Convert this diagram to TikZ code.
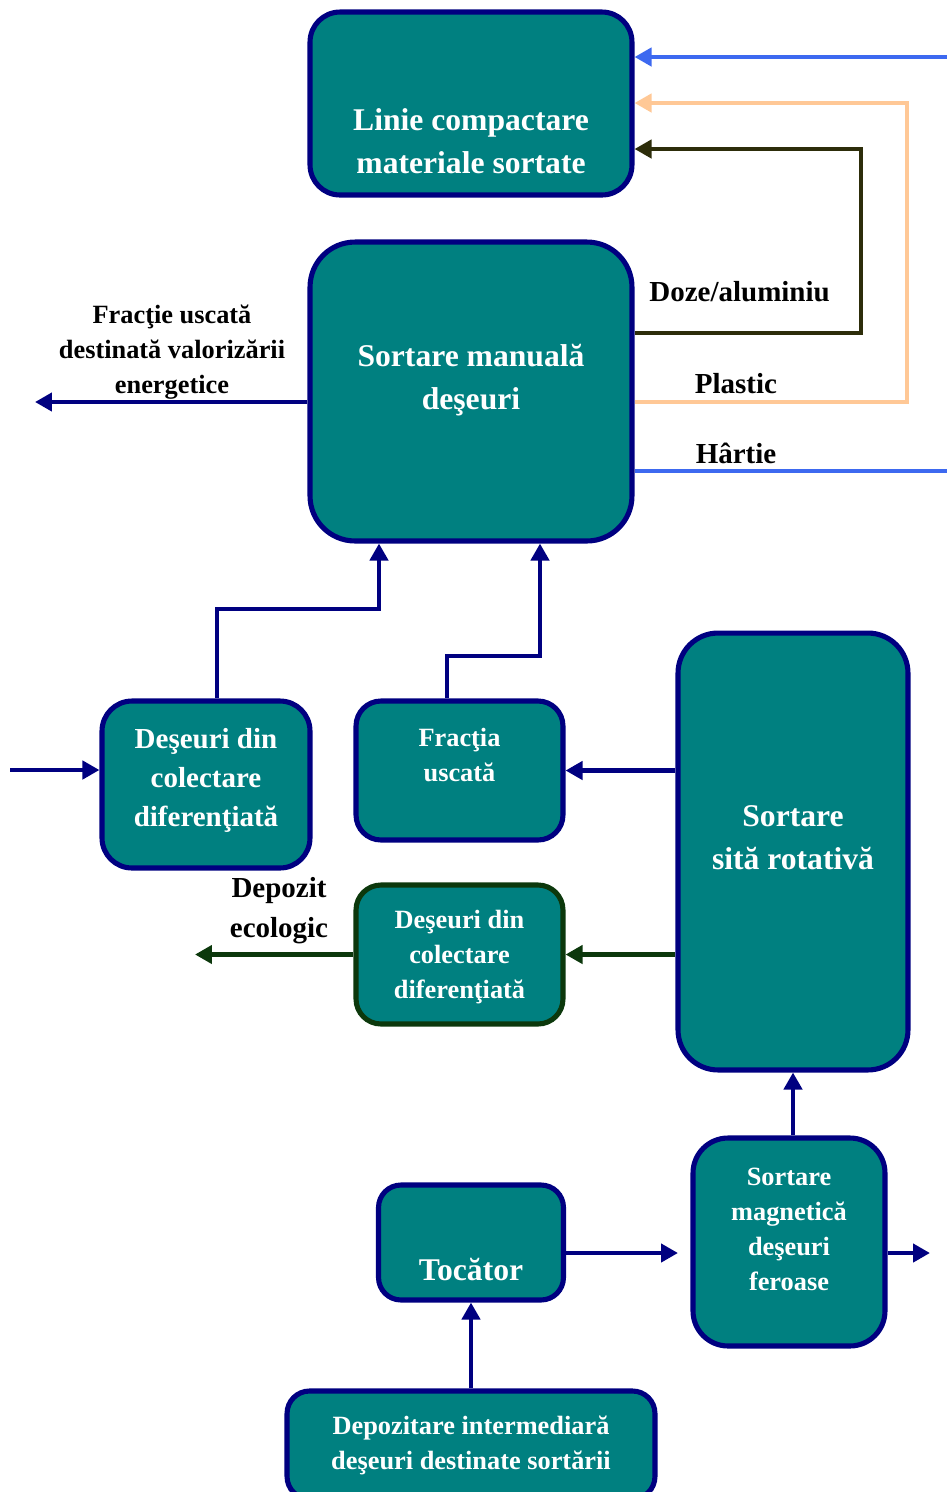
\documentclass[tikz,border=0pt]{standalone}
\usepackage{fontspec}
\setmainfont{Liberation Serif}
\usetikzlibrary{arrows.meta}
\definecolor{boxteal}{RGB}{0,128,128}
\definecolor{boxnavy}{RGB}{0,0,128}
\definecolor{boxgreen}{RGB}{12,56,12}
\definecolor{lineblue}{RGB}{61,105,240}
\definecolor{linepeach}{RGB}{255,200,150}
\definecolor{lineolive}{RGB}{45,45,10}

\begin{document}
\begin{tikzpicture}[x=0.02cm,y=-0.02cm,font=\bfseries,
box/.style={draw=boxnavy,line width=2.9pt,fill=boxteal,rounded corners=0.6cm,inner sep=0pt},
btxt/.style={text=white,align=center,inner sep=0pt},
lbl/.style={align=center,inner sep=0pt},
bigtxt/.style={font=\fontsize{18}{24.4}\selectfont\bfseries},
midtxt/.style={font=\fontsize{16.5}{22.4}\selectfont\bfseries},
smalltxt/.style={font=\fontsize{15}{19.9}\selectfont\bfseries},
arrowhd/.style={-{Triangle[length=0.34cm,width=0.36cm]}},
arr/.style={arrowhd,line width=2.6pt,draw=boxnavy},
garr/.style={arrowhd,line width=2.6pt,draw=boxgreen},
bline/.style={line width=2.4pt,draw=lineblue},
pline/.style={line width=2.7pt,draw=linepeach},
oline/.style={line width=2.7pt,draw=lineolive}]
\useasboundingbox (0,0) rectangle (947,1492);

\node[box,minimum width=6.44cm,minimum height=3.66cm,label={[btxt,bigtxt,yshift=-0.76cm]center:Linie compactare\\materiale sortate}](comp)at(471,103.5){};
\node[box,rounded corners=0.9cm,minimum width=6.44cm,minimum height=5.98cm,label={[btxt,bigtxt,yshift=0.22cm]center:Sortare manuală\\deşeuri}](man)at(471,391.5){};
\node[box,minimum width=4.16cm,minimum height=3.34cm,label={[btxt,midtxt,yshift=0.08cm]center:Deşeuri din\\colectare\\diferenţiată}](dcd)at(206,784.5){};
\node[box,rounded corners=0.5cm,minimum width=4.14cm,minimum height=2.78cm,label={[btxt,smalltxt,yshift=0.31cm]center:Fracţia\\uscată}](fu)at(459.5,770.5){};
\node[box,rounded corners=0.8cm,minimum width=4.6cm,minimum height=8.74cm,label={[btxt,bigtxt,yshift=0.27cm]center:Sortare\\sită rotativă}](sita)at(793,851.5){};
\node[box,draw=boxgreen,rounded corners=0.5cm,minimum width=4.14cm,minimum height=2.78cm,label={[btxt,smalltxt,yshift=-0.06cm]center:Deşeuri din\\colectare\\diferenţiată}](dcd2)at(459.5,954.5){};
\node[box,rounded corners=0.45cm,minimum width=3.7cm,minimum height=2.3cm,label={[btxt,bigtxt,yshift=-0.54cm]center:Tocător}](toc)at(471,1242.5){};
\node[box,rounded corners=0.7cm,minimum width=3.84cm,minimum height=4.16cm,label={[btxt,smalltxt,yshift=0.26cm]center:Sortare\\magnetică\\deşeuri\\feroase}](mag)at(789,1242){};
\node[box,rounded corners=0.45cm,minimum width=7.36cm,minimum height=2.16cm,label={[btxt,smalltxt]center:Depozitare intermediară\\deşeuri destinate sortării}](dep)at(471,1445){};

\node[lbl,smalltxt](enlbl)at(172,352){Fracţie uscată\\destinată valorizării\\energetice};
\node[lbl,midtxt,anchor=west](dozelbl)at(649,292){Doze/aluminiu};
\node[lbl,midtxt](plasticlbl)at(736,384){Plastic};
\node[lbl,midtxt](hartielbl)at(736,453){Hârtie};
\node[lbl,font=\fontsize{16.5}{22.8}\selectfont\bfseries](depozitlbl)at(279,911){Depozit\\ecologic};

\coordinate(hartieE)at(947,471);\coordinate(hartieW)at(947,57);
\coordinate(plasticR)at(907,402);\coordinate(plasticT)at(907,103);
\coordinate(dozeR)at(861,333);\coordinate(dozeT)at(861,149);
\draw[bline](man.east |- hartieE)--(hartieE);
\draw[bline,arrowhd](hartieW)--(hartieW -| comp.east);
\draw[pline,arrowhd](man.east |- plasticR)--(plasticR)--(plasticT)--(plasticT -| comp.east);
\draw[oline,arrowhd](man.east |- dozeR)--(dozeR)--(dozeT)--(dozeT -| comp.east);

\coordinate(energ)at(35,402);\draw[arr](man.west |- energ)--(energ);
\coordinate(dcdK)at(217,609);\coordinate(dcdK2)at(379,609);
\draw[arr](dcdK |- dcd.north)--(dcdK)--(dcdK2)--(dcdK2 |- man.south);
\coordinate(fuK)at(447,656);\coordinate(fuK2)at(540,656);
\draw[arr](fuK |- fu.north)--(fuK)--(fuK2)--(fuK2 |- man.south);
\coordinate(inW)at(10,770);\draw[arr](inW)--(inW -| dcd.west);
\draw[arr](sita.west |- fu.east)--(fu.east);
\draw[garr](sita.west |- dcd2.east)--(dcd2.east);
\coordinate(ecoW)at(195,954.5);\draw[garr](dcd2.west)--(ecoW);
\draw[arr](sita.south |- mag.north)--(sita.south);
\coordinate(tocE)at(678,1253);\draw[arr](toc.east |- tocE)--(tocE);
\coordinate(magE)at(930,1253);\draw[arr](mag.east |- magE)--(magE);
\draw[arr](dep.north)--(toc.south);
\end{tikzpicture}
\end{document}
